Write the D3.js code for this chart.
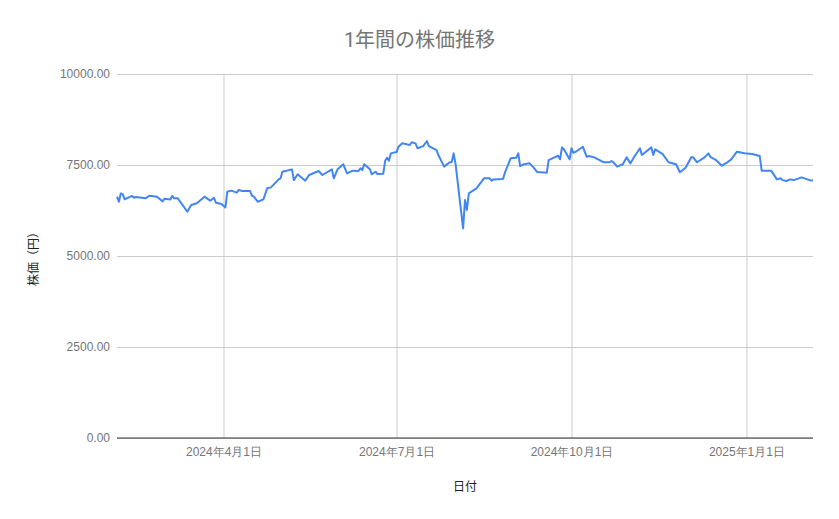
<!DOCTYPE html>
<html>
<head>
<meta charset="utf-8">
<script src="https://cdn.jsdelivr.net/npm/d3@7"></script>
<style>
  body { margin: 0; background: #fff; }
  svg { display: block; font-family: Roboto, "Noto Sans CJK JP", sans-serif; }
  .axis path { display: none; }
  .axis text { fill: #757575; font-size: 12px; }
  .grid line { stroke: #cccccc; }
</style>
</head>
<body>
<div id="chart"></div>
<script>
const title = "1年間の株価推移"
const xTitle = "日付"
const yTitle = "株価（円）"

const dates = [
  "2024-02-05","2024-02-06","2024-02-07","2024-02-08","2024-02-09","2024-02-13","2024-02-14","2024-02-15",
  "2024-02-20","2024-02-22","2024-02-26","2024-02-27","2024-02-29","2024-03-01","2024-03-04","2024-03-05",
  "2024-03-06","2024-03-08","2024-03-13","2024-03-15","2024-03-18","2024-03-22","2024-03-25","2024-03-27",
  "2024-03-28","2024-03-31","2024-04-02","2024-04-03","2024-04-05","2024-04-08","2024-04-09","2024-04-11",
  "2024-04-15","2024-04-16","2024-04-17","2024-04-19","2024-04-22","2024-04-24","2024-04-26","2024-04-30",
  "2024-05-01","2024-05-02","2024-05-07","2024-05-08","2024-05-10","2024-05-14","2024-05-16","2024-05-17",
  "2024-05-21","2024-05-23","2024-05-28","2024-05-29","2024-05-31","2024-06-03","2024-06-05","2024-06-08",
  "2024-06-11","2024-06-12","2024-06-13","2024-06-14","2024-06-17","2024-06-18","2024-06-20","2024-06-21",
  "2024-06-24","2024-06-25","2024-06-26","2024-06-27","2024-06-28","2024-07-01","2024-07-02","2024-07-04",
  "2024-07-08","2024-07-09","2024-07-11","2024-07-12","2024-07-15","2024-07-17","2024-07-18","2024-07-22",
  "2024-07-23","2024-07-26","2024-07-29","2024-07-30","2024-07-31","2024-08-01","2024-08-05","2024-08-06",
  "2024-08-07","2024-08-08","2024-08-12","2024-08-16","2024-08-19","2024-08-20","2024-08-21","2024-08-26",
  "2024-08-27","2024-08-30","2024-09-02","2024-09-03","2024-09-04","2024-09-06","2024-09-09","2024-09-11",
  "2024-09-13","2024-09-18","2024-09-19","2024-09-22","2024-09-24","2024-09-25","2024-09-26","2024-09-27",
  "2024-09-30","2024-10-01","2024-10-02","2024-10-04","2024-10-07","2024-10-09","2024-10-10","2024-10-13",
  "2024-10-18","2024-10-21","2024-10-22","2024-10-23","2024-10-25","2024-10-28","2024-10-30","2024-11-01",
  "2024-11-03","2024-11-06","2024-11-07","2024-11-12","2024-11-13","2024-11-14","2024-11-18","2024-11-21",
  "2024-11-25","2024-11-27","2024-11-30","2024-12-03","2024-12-04","2024-12-06","2024-12-10","2024-12-12",
  "2024-12-13","2024-12-16","2024-12-19","2024-12-22","2024-12-24","2024-12-27","2024-12-31","2025-01-04",
  "2025-01-08","2025-01-09","2025-01-14","2025-01-17","2025-01-19","2025-01-20","2025-01-22","2025-01-24",
  "2025-01-26","2025-01-27","2025-01-30","2025-02-02","2025-02-04","2025-02-05"
]

const prices = [
  6630, 6490, 6720, 6700, 6560, 6650, 6600, 6620,
  6585, 6655, 6630, 6585, 6500, 6575, 6555, 6650,
  6585, 6585, 6215, 6400, 6450, 6630, 6520, 6600,
  6465, 6430, 6335, 6765, 6795, 6740, 6815, 6785,
  6785, 6655, 6630, 6490, 6555, 6860, 6885, 7105,
  7135, 7315, 7380, 7085, 7245, 7070, 7225, 7245,
  7335, 7225, 7380, 7135, 7380, 7520, 7270, 7345,
  7335, 7410, 7360, 7520, 7380, 7245, 7315, 7250,
  7260, 7615, 7700, 7615, 7820, 7855, 8000, 8095,
  8050, 8125, 8095, 7960, 8020, 8160, 8020, 7910,
  7775, 7455, 7575, 7575, 7820, 7545, 5760, 6540,
  6265, 6720, 6860, 7135, 7135, 7070, 7105, 7115,
  7290, 7685, 7700, 7820, 7470, 7520, 7545, 7435,
  7305, 7290, 7635, 7710, 7755, 7655, 7985, 7930,
  7655, 7960, 7835, 7890, 8000, 7725, 7745, 7710,
  7575, 7575, 7610, 7575, 7455, 7520, 7710, 7545,
  7725, 7960, 7775, 7985, 7775, 7930, 7800, 7575,
  7520, 7300, 7425, 7710, 7710, 7575, 7710, 7820,
  7725, 7635, 7480, 7575, 7655, 7865, 7820, 7800,
  7745, 7345, 7345, 7105, 7135, 7085, 7060, 7105,
  7085, 7105, 7160, 7105, 7070, 7085
]

const xTickDates = ["2024-04-01", "2024-07-01", "2024-10-01", "2025-01-01"]
const xTickLabels = ["2024年4月1日", "2024年7月1日", "2024年10月1日", "2025年1月1日"]
const yTicks = [0, 2500, 5000, 7500, 10000]

const config = {
    parentElement: "#chart",
    containerWidth: 839,
    containerHeight: 519,
    margin: { top: 74, right: 26, bottom: 81, left: 117 }
}

const parseDate = d3.utcParse("%Y-%m-%d")
const data = dates.map((d, i) => ({ date: parseDate(d), price: prices[i] }))

const width = config.containerWidth - config.margin.left - config.margin.right
const height = config.containerHeight - config.margin.top - config.margin.bottom

const xScale = d3.scaleUtc()
    .domain(d3.extent(data, d => d.date))
    .range([0, width])

const yScale = d3.scaleLinear()
    .domain([0, 10000])
    .range([height, 0])

const svg = d3.select(config.parentElement).append("svg")
    .attr("width", config.containerWidth)
    .attr("height", config.containerHeight)

const chart = svg.append("g")
    .attr("transform", `translate(${config.margin.left},${config.margin.top})`)

// horizontal gridlines + y labels
chart.append("g")
    .attr("class", "axis grid y-axis")
    .call(d3.axisLeft(yScale)
        .tickValues(yTicks)
        .tickSize(-width)
        .tickPadding(7)
        .tickFormat(d3.format(".2f")))

// vertical gridlines + x labels
const xTickMap = new Map(xTickDates.map((d, i) => [+parseDate(d), xTickLabels[i]]))
chart.append("g")
    .attr("class", "axis grid x-axis")
    .attr("transform", `translate(0,${height})`)
    .call(d3.axisBottom(xScale)
        .tickValues(xTickDates.map(parseDate))
        .tickSize(-height)
        .tickPadding(9)
        .tickFormat(d => xTickMap.get(+d)))

// baseline
chart.append("line")
    .attr("x1", 0)
    .attr("x2", width)
    .attr("y1", yScale(0))
    .attr("y2", yScale(0))
    .attr("stroke", "#333333")
    .attr("stroke-width", 1)

const line = d3.line()
    .x(d => xScale(d.date))
    .y(d => yScale(d.price))

chart.append("path")
    .datum(data)
    .attr("fill", "none")
    .attr("stroke", "#4285f4")
    .attr("stroke-width", 2)
    .attr("stroke-linejoin", "round")
    .attr("d", line)

svg.append("text")
    .attr("x", config.containerWidth / 2)
    .attr("y", 47)
    .attr("text-anchor", "middle")
    .style("fill", "#757575")
    .style("font-size", "20px")
    .text(title)

svg.append("text")
    .attr("x", config.margin.left + width / 2)
    .attr("y", 491)
    .attr("text-anchor", "middle")
    .style("fill", "#222222")
    .style("font-size", "12px")
    .text(xTitle)

svg.append("text")
    .attr("transform", `translate(38,${config.margin.top + height / 2}) rotate(-90)`)
    .attr("text-anchor", "middle")
    .style("fill", "#222222")
    .style("font-size", "12px")
    .text(yTitle)
</script>
</body>
</html>
